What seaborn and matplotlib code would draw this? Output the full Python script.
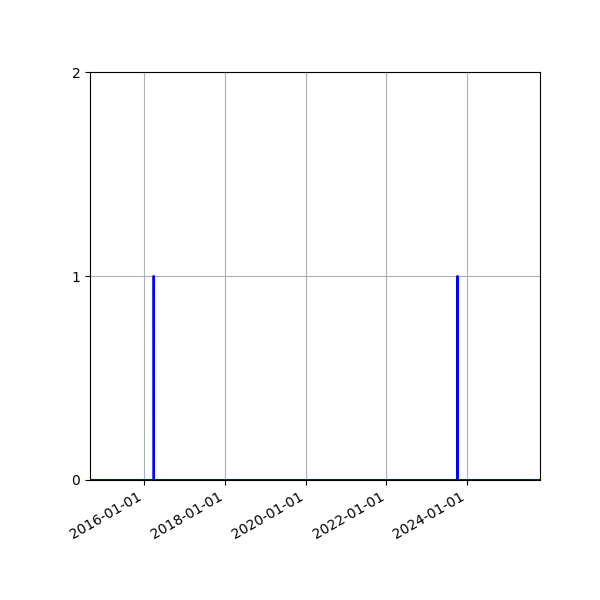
import matplotlib
matplotlib.use("Agg")
import matplotlib.pyplot as plt
import matplotlib.dates as mdates
import seaborn as sns
import pandas as pd

# date range covered by the series (daily)
start_date = "2014-08-29"
end_date = "2025-10-22"

# days with a non-zero count
event_dates = ["2016-03-27", "2023-10-06"]
event_counts = [1, 1]

y_ticks = [0, 1, 2]

days = pd.date_range(start_date, end_date, freq="D")
counts = pd.Series(event_counts, index=pd.to_datetime(event_dates))
counts = counts.reindex(days, fill_value=0)
df = pd.DataFrame({"date": days, "count": counts.values})

fig, ax = plt.subplots(figsize=(6, 6), dpi=100)
sns.lineplot(data=df, x="date", y="count", color="blue", linewidth=1.5, ax=ax)

ax.set_xlim(days[0], days[-1])
ax.set_ylim(0, 2)
ax.set_yticks(y_ticks)
ax.xaxis.set_major_locator(mdates.YearLocator(2))
ax.xaxis.set_major_formatter(mdates.DateFormatter("%Y-%m-%d"))
ax.set_xlabel("")
ax.set_ylabel("")
ax.grid(True)
fig.autofmt_xdate()
fig.subplots_adjust(left=0.15, right=0.9, top=0.88, bottom=0.2)

plt.savefig("out.png")
